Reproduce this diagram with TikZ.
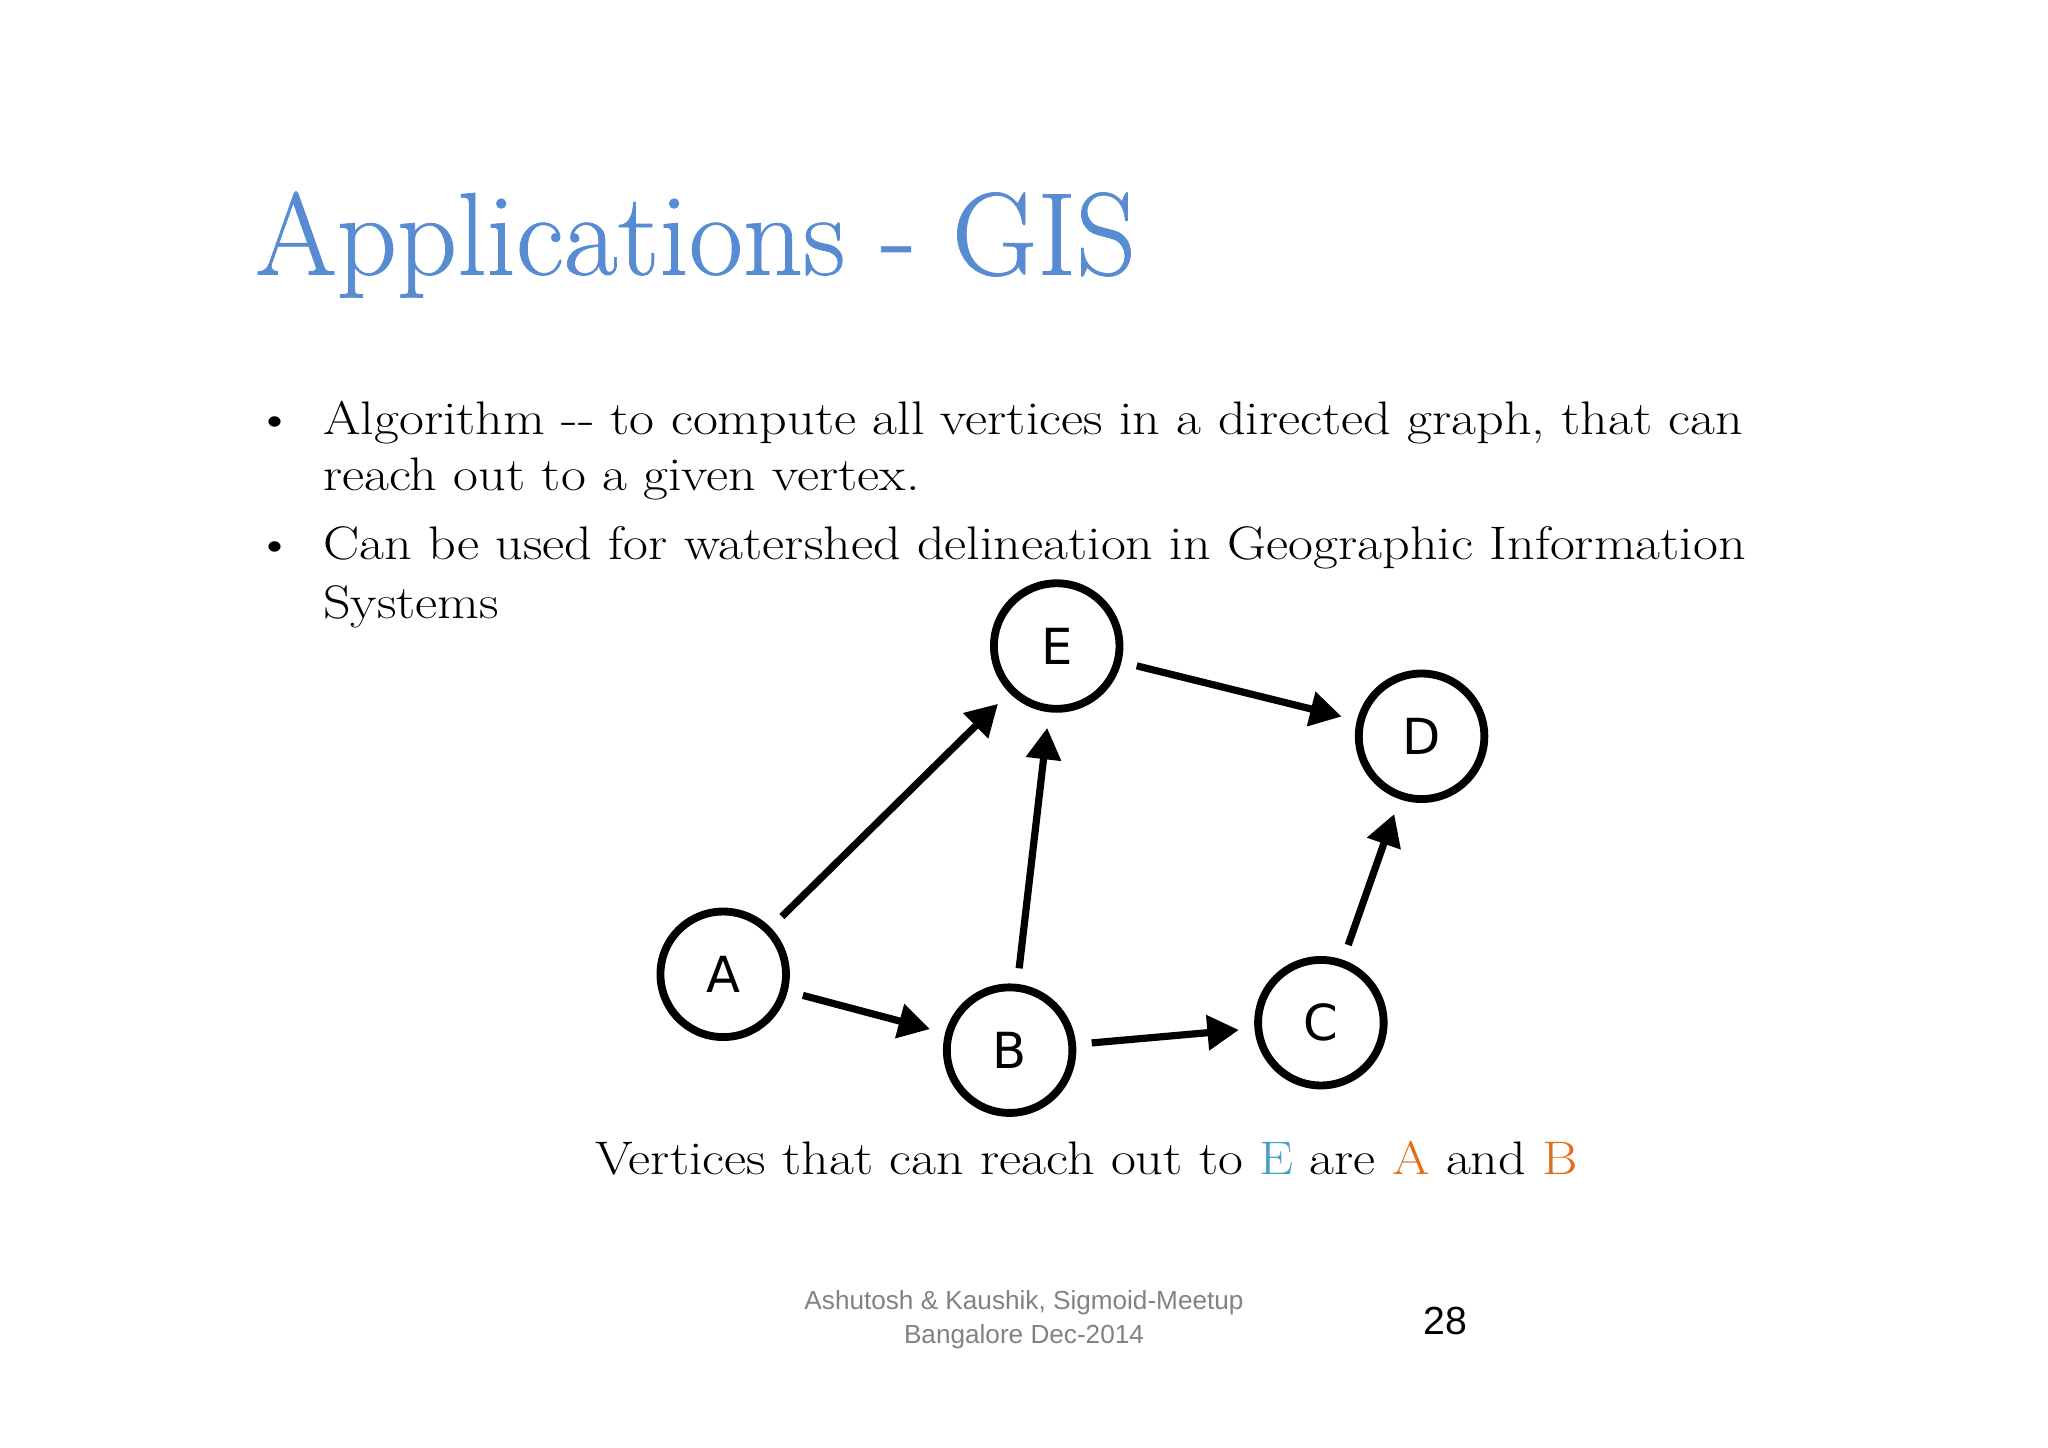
\documentclass[tikz,border=0pt]{standalone}
\usepackage{fontspec}
\newfontfamily\arial{Liberation Sans}
\newfontfamily\dvs{DejaVu Sans}
\newfontfamily\wide[FakeStretch=1.15]{Latin Modern Roman}
\newfontfamily\titlef[FakeBold=0.6]{Latin Modern Roman}
\usetikzlibrary{arrows.meta}
\definecolor{titleblue}{RGB}{88,140,210}
\definecolor{eblue}{RGB}{70,160,200}
\definecolor{aorange}{RGB}{225,110,25}
\definecolor{foot}{RGB}{130,130,130}
\begin{document}
\begin{tikzpicture}[x=1pt,y=-1pt,
  vtx/.style={circle,draw=black,line width=6pt,minimum size=96pt,inner sep=0pt,font=\dvs\fontsize{38}{40}\selectfont},
  edge/.style={line width=5.5pt,-{Triangle[length=24pt,width=26pt]},shorten <=12pt,shorten >=12pt},
  body/.style={anchor=base west,font=\wide\fontsize{36}{40}\selectfont,inner sep=0pt}]
\useasboundingbox[fill=white] (0,0) rectangle (1566,1107);
\node[anchor=base west,inner sep=0pt,text=titleblue,font=\titlef\fontsize{90}{96}\selectfont] (title) at (195,210) {Applications - GIS};
\node[body] (b1) at (195,332) {\textbullet};
\node[body] (l1) at (247,332) {Algorithm -- to compute all vertices in a directed graph, that can};
\node[body] (l2) at (247,375) {reach out to a given vertex.};
\node[body] (b2) at (195,428) {\textbullet};
\node[body] (l3) at (247,428) {Can be used for watershed delineation in Geographic Information};
\node[body] (l4) at (247,473) {Systems};
\node[vtx] (E) at (808,494) {E};
\node[vtx] (D) at (1087,563) {D};
\node[vtx] (A) at (553,745) {A};
\node[vtx] (B) at (772,803) {B};
\node[vtx] (C) at (1010,782) {C};
\draw[edge] (A) -- (E);
\draw[edge] (E) -- (D);
\draw[edge] (B) -- (E);
\draw[edge] (A) -- (B);
\draw[edge] (B) -- (C);
\draw[edge] (C) -- (D);
\node[anchor=base,inner sep=0pt,font=\wide\fontsize{36}{40}\selectfont] (cap) at (831,898) {Vertices that can reach out to \textcolor{eblue}{E} are \textcolor{aorange}{A} and \textcolor{aorange}{B}};
\node[align=center,text=foot,font=\arial\fontsize{20}{26}\selectfont] (f1) at (783,1009) {Ashutosh \& Kaushik, Sigmoid-Meetup\\Bangalore Dec-2014};
\node[font=\arial\fontsize{30}{32}\selectfont] (pg) at (1105,1010) {28};
\end{tikzpicture}
\end{document}
